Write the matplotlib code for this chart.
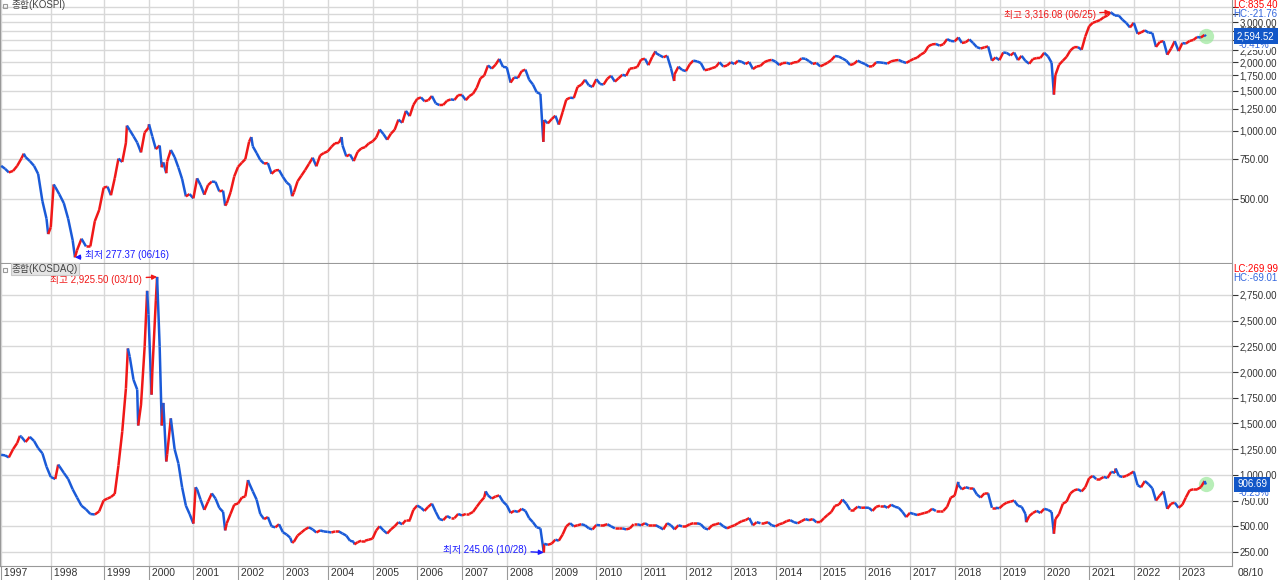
import numpy as np
import pandas as pd
import matplotlib
matplotlib.use('Agg')
import matplotlib.pyplot as plt
from matplotlib.collections import LineCollection
from matplotlib.patches import Rectangle

plt.rcParams['font.family'] = ['Liberation Sans', 'Noto Sans CJK KR', 'DejaVu Sans']

# month-end closes, Jan 1997 .. Aug 2023 (last one = 08/10)
kospi_close = [
    680, 655, 665, 700, 755, 765, 735, 700, 645, 490, 410, 376,
    565, 525, 480, 410, 330, 298, 335, 310, 310, 400, 448, 562,
    567, 520, 618, 753, 728, 883, 1006, 944, 886, 802, 981, 1028,
    943, 829, 860, 725, 731, 822, 765, 688, 613, 514, 526, 504,
    617, 577, 523, 576, 597, 595, 541, 545, 479, 537, 629, 693,
    723, 749, 894, 853, 797, 743, 716, 720, 646, 669, 671, 627,
    592, 575, 535, 599, 634, 670, 713, 760, 697, 778, 797, 810,
    849, 880, 883, 862, 771, 785, 735, 806, 835, 846, 878, 896,
    932, 1011, 965, 912, 970, 1008, 1117, 1083, 1221, 1158, 1297, 1379,
    1399, 1347, 1359, 1419, 1317, 1295, 1297, 1352, 1371, 1364, 1432, 1434,
    1360, 1417, 1452, 1542, 1700, 1744, 1933, 1873, 1946, 2065, 1906, 1897,
    1625, 1712, 1704, 1825, 1853, 1674, 1595, 1474, 1449, 1113, 1076, 1124,
    1162, 1063, 1206, 1369, 1395, 1390, 1557, 1591, 1673, 1581, 1555, 1682,
    1602, 1594, 1692, 1741, 1641, 1698, 1759, 1742, 1872, 1882, 1904, 2051,
    2069, 1939, 2106, 2192, 2142, 2100, 2133, 1880, 1770, 1909, 1847, 1826,
    1956, 2030, 2014, 1982, 1843, 1854, 1881, 1905, 1996, 1912, 1932, 1997,
    1961, 2026, 2005, 1963, 2001, 1863, 1914, 1926, 1997, 2030, 2045, 2011,
    1941, 1980, 1986, 1962, 1995, 2002, 2076, 2068, 2020, 1964, 1981, 1916,
    1949, 1986, 2041, 2127, 2115, 2074, 2030, 1941, 1963, 2029, 1992, 1961,
    1912, 1917, 1996, 1994, 1983, 1970, 2016, 2034, 2043, 2008, 1983, 2026,
    2067, 2091, 2160, 2205, 2347, 2392, 2402, 2363, 2394, 2523, 2476, 2467,
    2566, 2427, 2445, 2515, 2423, 2326, 2295, 2322, 2343, 2029, 2096, 2041,
    2204, 2195, 2140, 2203, 2041, 2130, 2024, 1967, 2063, 2083, 2087, 2197,
    2119, 1987, 1754, 1947, 2029, 2108, 2249, 2326, 2327, 2267, 2591, 2873,
    2976, 3013, 3061, 3147, 3204, 3297, 3202, 3199, 3069, 2970, 2839, 2977,
    2663, 2699, 2757, 2695, 2685, 2332, 2452, 2472, 2155, 2293, 2472, 2236,
    2425, 2412, 2476, 2501, 2577, 2564, 2632, 2594.52,
]
kosdaq_close = [
    1190, 1170, 1250, 1310, 1370, 1320, 1370, 1330, 1260, 1210, 1080, 980,
    960, 1085, 1020, 960, 860, 780, 700, 665, 620, 615, 645, 752,
    770, 785, 815, 1090, 1420, 1840, 2150, 1925, 1830, 1680, 2250, 2561,
    2000, 2700, 2250, 1700, 1200, 1550, 1250, 1110, 880, 700, 620, 526,
    860, 760, 660, 740, 820, 770, 680, 640, 530, 620, 710, 722,
    780, 790, 920, 840, 760, 620, 570, 590, 500, 490, 520, 443,
    420, 390, 350, 410, 440, 470, 490, 470, 440, 460, 450, 446,
    440, 450, 450, 430, 410, 360, 350, 345, 360, 360, 370, 380,
    460, 500, 460, 430, 470, 500, 540, 520, 560, 560, 660, 702,
    680, 650, 690, 720, 640, 570, 560, 600, 580, 580, 620, 606,
    620, 620, 640, 690, 740, 780, 800, 770, 790, 800, 740, 705,
    630, 650, 640, 670, 650, 580, 540, 490, 480, 330, 320, 332,
    370, 360, 420, 500, 530, 500, 510, 520, 510, 480, 470, 513,
    510, 510, 520, 500, 480, 480, 480, 470, 480, 520, 520, 510,
    530, 510, 510, 510, 490, 470, 530, 510, 470, 510, 500, 500,
    520, 530, 530, 520, 480, 470, 510, 520, 530, 500, 480, 497,
    510, 530, 550, 560, 580, 510, 540, 530, 530, 540, 510, 500,
    520, 530, 550, 560, 540, 530, 550, 570, 560, 570, 540, 542,
    580, 610, 640, 700, 710, 760, 720, 660, 660, 690, 680, 682,
    680, 650, 690, 700, 700, 680, 710, 690, 680, 640, 590, 631,
    620, 610, 620, 630, 640, 670, 650, 650, 650, 690, 780, 798,
    900, 860, 880, 870, 870, 810, 780, 820, 820, 680, 680, 676,
    710, 730, 740, 750, 700, 690, 620, 600, 630, 650, 630, 670,
    660, 640, 570, 620, 720, 740, 820, 850, 860, 840, 880, 968,
    990, 960, 960, 980, 970, 1030, 1020, 990, 980, 990, 1010, 1033,
    900, 880, 940, 910, 870, 750, 800, 840, 670, 720, 730, 680,
    710, 780, 850, 860, 860, 880, 940, 906.69,
]
first_date, last_date = '1997-01-03', '2023-08-10'
kospi_first, kosdaq_first = 700, 1195

# intra-month swings and extremes
kospi_ext_dates = ['1997-06-17', '1997-12-12', '1998-01-20', '1998-06-16',
                   '1999-07-08', '2000-01-04', '2000-04-17', '2000-05-24',
                   '2001-09-17', '2002-04-18', '2003-03-17', '2004-04-23',
                   '2008-10-24', '2011-04-27', '2011-09-26', '2020-03-19',
                   '2021-06-25']
kospi_ext_vals = [792, 351, 580, 277.37, 1052, 1066, 690, 650,
                  468, 937, 515, 936, 892, 2230, 1652, 1439, 3316.08]
kosdaq_ext_dates = ['1997-05-20', '1998-02-20', '1999-07-16', '1999-10-08',
                    '1999-12-20', '2000-01-25', '2000-03-10', '2000-04-17',
                    '2000-05-24', '2001-01-19', '2001-09-17', '2002-03-22',
                    '2003-03-17', '2004-08-05', '2007-07-12', '2008-10-28',
                    '2018-01-29', '2019-08-06', '2020-03-19', '2021-08-05']
kosdaq_ext_vals = [1380, 1100, 2230, 1480, 2790, 1780, 2925.50, 1480,
                   1130, 880, 460, 950, 340, 324, 840, 245.06,
                   932, 540, 428, 1062]

kospi_ticks = list(range(500, 3750, 250))
kosdaq_ticks = list(range(250, 3000, 250))
kospi_hidden = [2500, 3250, 3500]

# trading days per year (Saturday sessions until 1998)
days_per_year = [277, 293] + [248] * 27
edges = np.arange(1997, 1997 + len(days_per_year) + 1)
cum = np.concatenate([[0], np.cumsum(days_per_year)])

RED = '#f01818'
BLUE = '#1a5ad8'
FS = 7


def to_pos(dates):
    d = pd.to_datetime(pd.Series(dates))
    yr = d.dt.year + (d.dt.dayofyear - 1) / 365.25
    return np.interp(yr.values, edges, cum)


def build(first, closes, ext_d, ext_v):
    months = pd.date_range('1997-01-01', periods=len(closes) - 1, freq='MS') + pd.offsets.MonthEnd(0)
    dates = [pd.Timestamp(first_date)] + list(months) + [pd.Timestamp(last_date)] + list(pd.to_datetime(ext_d))
    vals = np.array([first] + list(closes) + list(ext_v), dtype=float)
    x = to_pos(dates)
    o = np.argsort(x, kind='stable')
    return x[o], vals[o]


def draw(ax, x, y):
    pts = np.column_stack([x, y])
    segs = np.stack([pts[:-1], pts[1:]], axis=1)
    cols = np.where(np.diff(y) >= 0, RED, BLUE)
    ax.add_collection(LineCollection(segs, colors=cols, linewidths=1.8, zorder=3))
    ax.plot(x[-1], y[-1], 'o', ms=11, color='#9be89b', alpha=0.7, mec='none', zorder=2)


W, H = 1280, 580
fig = plt.figure(figsize=(12.8, 5.8), dpi=100)


def box(l, t, r, b):
    return [l / W, 1 - b / H, (r - l) / W, (b - t) / H]


ax1 = fig.add_axes(box(0, 0, 1232, 263))
ax2 = fig.add_axes(box(0, 264, 1232, 566))

x1, y1 = build(kospi_first, kospi_close, kospi_ext_dates, kospi_ext_vals)
x2, y2 = build(kosdaq_first, kosdaq_close, kosdaq_ext_dates, kosdaq_ext_vals)

ax1.set_yscale('log')
draw(ax1, x1, y1)
draw(ax2, x2, y2)

year_pos = to_pos([f'{y}-01-01' for y in range(1997, 2024)])
for ax in (ax1, ax2):
    ax.set_xlim(-5, x1[-1] + 145)
    ax.set_xticks(year_pos)
    ax.grid(True, color='#d8d8d8', lw=1)
    ax.set_axisbelow(True)
    ax.yaxis.tick_right()
    ax.tick_params(axis='y', direction='out', length=4, pad=1.5, labelsize=FS,
                   colors='#333333', which='both')
    ax.yaxis.set_minor_locator(matplotlib.ticker.NullLocator())
    for s in ax.spines.values():
        s.set_color('#999999')
    ax.spines['top'].set_visible(False)

ax1.set_ylim(262, 3748)
ax1.set_yticks(kospi_ticks)
ax1.set_yticklabels(['' if t in kospi_hidden else f'{t:,.2f}' for t in kospi_ticks])
ax1.tick_params(axis='x', length=0, labelbottom=False)

ax2.set_ylim(114, 3051)
ax2.set_yticks(kosdaq_ticks)
ax2.set_yticklabels([f'{t:,.2f}' for t in kosdaq_ticks])
ax2.set_xticklabels([f' {y}' for y in range(1997, 2024)])
ax2.tick_params(axis='x', direction='out', length=10, pad=-8.8, labelsize=FS + 0.5,
                colors='#999999', labelcolor='#333333')
plt.setp(ax2.get_xticklabels(), ha='left')

# panel titles
fig.text(12 / W, 1 - 5 / H, '종합(KOSPI)', fontsize=FS, va='center', color='#444444')
fig.text(12 / W, 1 - 269 / H, '종합(KOSDAQ)', fontsize=FS, va='center', color='#444444',
         bbox=dict(boxstyle='square,pad=0.1', fc='#e4e4e4', ec='#c8c8c8', lw=0.8))
for t in (3, 267):
    fig.patches.append(Rectangle((3 / W, 1 - (t + 5) / H), 4 / W, 4 / H, fill=False,
                                 ec='#999999', lw=0.8, transform=fig.transFigure))


# right side info
def side(ax, lc, hc, last, pct):
    top = ax.get_position().y1
    fig.text(1233 / W, top - 5 / H, lc, fontsize=7, color='#ff0000', va='center')
    fig.text(1233 / W, top - 14 / H, hc, fontsize=7, color='#3366dd', va='center')
    ax.annotate(f'{last:,.2f}', xy=(1.0, last), xycoords=('axes fraction', 'data'),
                xytext=(5, 0), textcoords='offset pixels', fontsize=FS, color='white',
                va='center', ha='left', annotation_clip=False, zorder=10,
                bbox=dict(boxstyle='square,pad=0.3', fc='#1257c8', ec='none'))
    ax.annotate(pct, xy=(1.0, last), xycoords=('axes fraction', 'data'),
                xytext=(7, -9), textcoords='offset pixels', fontsize=FS, color='#3366dd',
                va='center', ha='left', annotation_clip=False, zorder=9,
                bbox=dict(boxstyle='square,pad=0', fc='white', ec='none'))


side(ax1, 'LC:835.40', 'HC:-21.76', kospi_close[-1], '-0.41%')
side(ax2, 'LC:269.99', 'HC:-69.01', kosdaq_close[-1], '-0.25%')
fig.text(1238 / W, 1 - 573 / H, '08/10', fontsize=FS + 0.5, va='center', color='#333333')


# max / min markers
def mark(ax, date, val, text, color, dx, dy, ha):
    p = to_pos([date])[0]
    ax.annotate(text, xy=(p, val), xytext=(dx, dy), textcoords='offset pixels',
                fontsize=FS, color=color, ha=ha, va='center', zorder=10,
                arrowprops=dict(arrowstyle='-|>', color=color, lw=1, mutation_scale=7,
                                shrinkA=1, shrinkB=0))


mark(ax1, '2021-06-25', 3316.08, '최고 3,316.08 (06/25)', RED, -15, -3, 'right')
mark(ax1, '1998-06-16', 277.37, '최저 277.37 (06/16)', '#1a1aff', 10, 2, 'left')
mark(ax2, '2000-03-10', 2925.50, '최고 2,925.50 (03/10)', RED, -15, -3, 'right')
mark(ax2, '2008-10-28', 245.06, '최저 245.06 (10/28)', '#1a1aff', -17, 3, 'right')

fig.savefig('out.png', dpi=100)
